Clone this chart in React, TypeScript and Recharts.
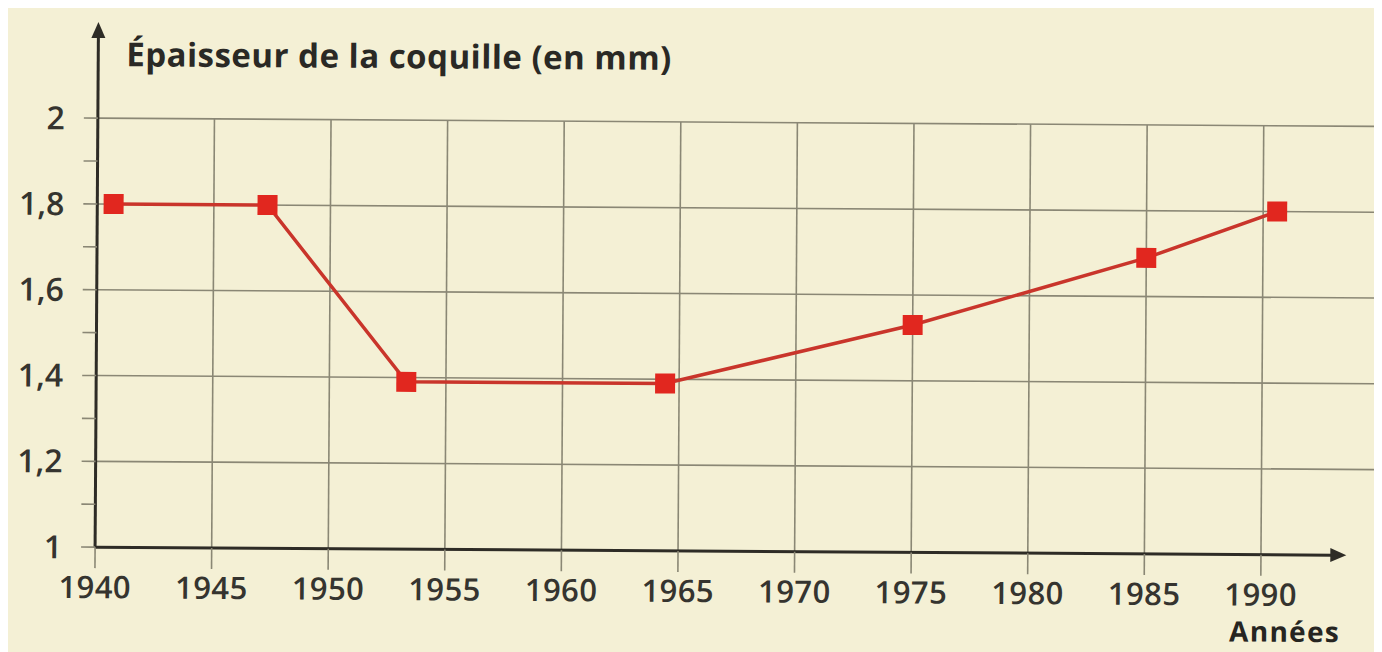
import {
  LineChart,
  Line,
  XAxis,
  YAxis,
  CartesianGrid,
  ReferenceLine,
  ReferenceDot,
} from 'recharts';

// Épaisseur de la coquille selon les années
const years = [1940.7, 1947.3, 1953.3, 1964.4, 1975, 1985, 1990.6];
const thickness = [1.8, 1.8, 1.39, 1.39, 1.53, 1.69, 1.8];

const xTicks = [1940, 1945, 1950, 1955, 1960, 1965, 1970, 1975, 1980, 1985, 1990];
const yTicks = [1, 1.1, 1.2, 1.3, 1.4, 1.5, 1.6, 1.7, 1.8, 1.9, 2];
const yLabelled = [1, 1.2, 1.4, 1.6, 1.8, 2];

const data = years.map((year, i) => ({ year, thickness: thickness[i] }));

const FONT = '"Open Sans", sans-serif';
const GRID = '#8a8775';
const AXIS = '#2e2c26';
const TEXT = '#35342f';
const RED = '#e1271f';

const fmt = (v: number) => String(Math.round(v * 10) / 10).replace('.', ',');

function YTick({ x, y, payload }: any) {
  const v = payload.value;
  if (!yLabelled.some((l) => Math.abs(l - v) < 1e-6)) return <g />;
  return (
    <text x={x} y={y} dy="0.355em" textAnchor="end" fill={TEXT} fontSize={32} fontFamily={FONT} fontWeight={600}>
      {fmt(v)}
    </text>
  );
}

function XTick({ x, y, payload }: any) {
  return (
    <text x={x} y={y} dy="0.71em" textAnchor="middle" fill={TEXT} fontSize={31} fontFamily={FONT} fontWeight={600} letterSpacing={0.4}>
      {payload.value}
    </text>
  );
}

const Square = (p: any) => (
  <rect key={`sq-${p.index}`} x={p.cx - 10} y={p.cy - 10} width={20} height={20} fill={RED} />
);

export default function App() {
  return (
    <div style={{ width: 1374, height: 644, background: '#f4f0d5', overflow: 'hidden' }}>
      <div style={{ width: 1374, height: 644, transform: 'rotate(0.37deg)' }}>
        <LineChart
          width={1374}
          height={644}
          data={data}
          margin={{ top: 114, right: 3, bottom: 41, left: 0 }}
        >
          <CartesianGrid stroke={GRID} strokeWidth={1.6} horizontal={false} />
          {yLabelled.slice(1).map((v) => (
            <ReferenceLine key={v} y={v} stroke={GRID} strokeWidth={1.6} />
          ))}
          <XAxis
            type="number"
            dataKey="year"
            domain={[1940, 1995]}
            ticks={xTicks}
            interval={0}
            axisLine={false}
            tickLine={{ stroke: GRID, strokeWidth: 1.6 }}
            tickSize={21}
            tickMargin={8}
            height={60}
            tick={<XTick />}
            label={({ viewBox }: any) => (
              <text
                x={viewBox.x + viewBox.width - 37}
                y={viewBox.y + 87}
                textAnchor="end"
                fill="#262521"
                fontSize={28}
                fontFamily={FONT}
                fontWeight={700}
                letterSpacing={1.3}
              >
                Années
              </text>
            )}
          />
          <YAxis
            type="number"
            domain={[1, 2]}
            ticks={yTicks}
            interval={0}
            width={88.5}
            axisLine={false}
            tickLine={{ stroke: GRID, strokeWidth: 1.6 }}
            tickSize={14}
            tickMargin={19}
            tick={<YTick />}
            label={({ viewBox }: any) => (
              <text
                x={viewBox.x + viewBox.width + 28}
                y={62}
                fill="#2a2925"
                fontSize={33}
                fontFamily={FONT}
                fontWeight={700}
                letterSpacing={0.5}
              >
                Épaisseur de la coquille (en mm)
              </text>
            )}
          />
          {/* axes fléchés */}
          <ReferenceLine
            segment={[{ x: 1940, y: 1 }, { x: 1940, y: 2.19 }]}
            stroke={AXIS}
            strokeWidth={3}
            ifOverflow="visible"
          />
          <ReferenceLine
            segment={[{ x: 1940, y: 1 }, { x: 1993.1, y: 1 }]}
            stroke={AXIS}
            strokeWidth={3}
            ifOverflow="visible"
          />
          <ReferenceDot
            x={1940}
            y={2.224}
            ifOverflow="visible"
            shape={(p: any) => (
              <polygon points={`${p.cx},${p.cy} ${p.cx - 7},${p.cy + 16} ${p.cx + 7},${p.cy + 16}`} fill={AXIS} />
            )}
          />
          <ReferenceDot
            x={1993.66}
            y={1}
            ifOverflow="visible"
            shape={(p: any) => (
              <polygon points={`${p.cx},${p.cy} ${p.cx - 16},${p.cy - 7} ${p.cx - 16},${p.cy + 7}`} fill={AXIS} />
            )}
          />
          <Line
            type="linear"
            dataKey="thickness"
            stroke="#c9352b"
            strokeWidth={3.5}
            dot={Square}
            activeDot={false}
            isAnimationActive={false}
          />
        </LineChart>
      </div>
    </div>
  );
}
